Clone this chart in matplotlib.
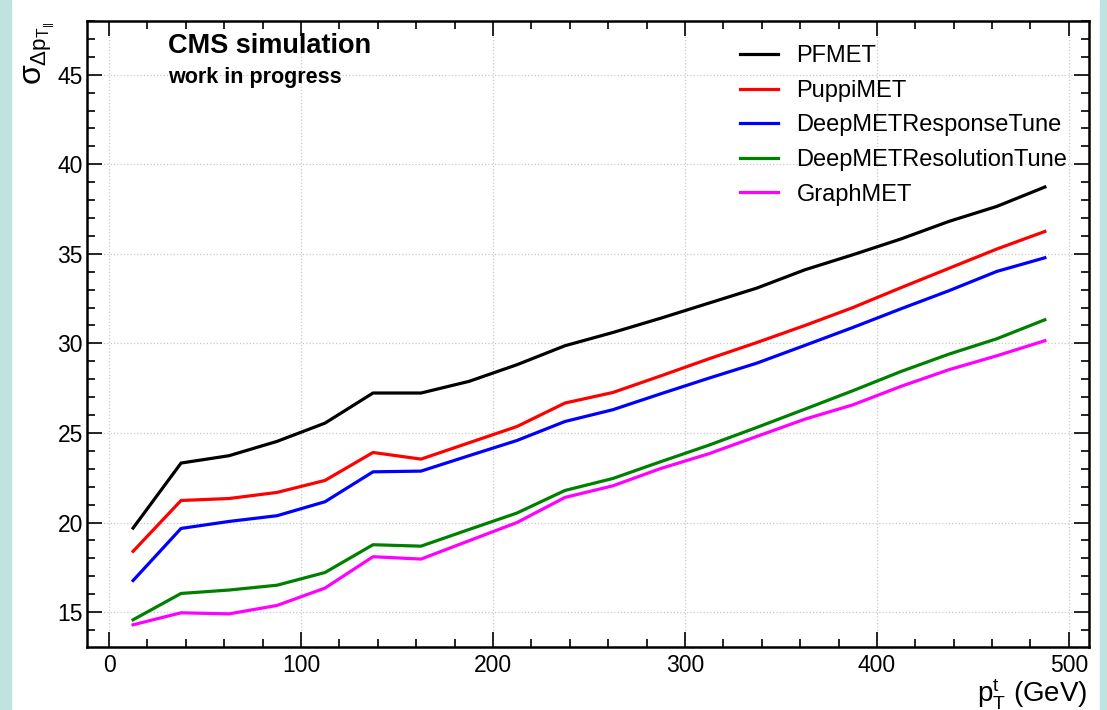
import numpy as np
import matplotlib
matplotlib.use('Agg')
import matplotlib.pyplot as plt
from matplotlib.patches import Rectangle
from matplotlib.ticker import MultipleLocator

plt.rcParams['font.family'] = ['Liberation Sans', 'DejaVu Sans']
plt.rcParams['mathtext.fontset'] = 'custom'
plt.rcParams['mathtext.rm'] = 'Liberation Sans'
plt.rcParams['mathtext.it'] = 'Liberation Sans'
plt.rcParams['mathtext.bf'] = 'Liberation Sans:bold'

# bin centres in pT (GeV)
pt = [12.5, 37.5, 62.5, 87.5, 112.5, 137.5, 162.5, 187.5, 212.5, 237.5,
      262.5, 287.5, 312.5, 337.5, 362.5, 387.5, 412.5, 437.5, 462.5, 487.5]

pfmet = [19.69, 23.32, 23.73, 24.53, 25.55, 27.23, 27.23, 27.88, 28.81, 29.87,
         30.61, 31.41, 32.25, 33.09, 34.11, 34.95, 35.83, 36.81, 37.65, 38.73]
puppimet = [18.39, 21.23, 21.34, 21.68, 22.35, 23.91, 23.54, 24.45, 25.36, 26.67,
            27.26, 28.19, 29.14, 30.05, 31.00, 32.00, 33.11, 34.19, 35.27, 36.25]
deepmet_response = [16.76, 19.67, 20.06, 20.38, 21.16, 22.83, 22.87, 23.73, 24.58, 25.64,
                    26.30, 27.19, 28.06, 28.90, 29.89, 30.89, 31.93, 32.94, 34.02, 34.78]
deepmet_resolution = [14.57, 16.04, 16.23, 16.50, 17.21, 18.76, 18.68, 19.61, 20.53, 21.79,
                      22.46, 23.40, 24.32, 25.31, 26.33, 27.36, 28.43, 29.40, 30.26, 31.32]
graphmet = [14.29, 14.96, 14.90, 15.37, 16.34, 18.09, 17.96, 18.98, 20.00, 21.40,
            22.05, 23.02, 23.84, 24.81, 25.77, 26.57, 27.60, 28.53, 29.31, 30.15]

series = [
    ('PFMET', pfmet, 'black'),
    ('PuppiMET', puppimet, 'red'),
    ('DeepMETResponseTune', deepmet_response, 'blue'),
    ('DeepMETResolutionTune', deepmet_resolution, 'green'),
    ('GraphMET', graphmet, 'magenta'),
]

fig = plt.figure(figsize=(11.07, 7.10), dpi=100, facecolor='white')
# teal side strips of the slide
teal = '#bfe3df'
fig.patches.append(Rectangle((0, 0), 11 / 1107, 1, transform=fig.transFigure,
                             color=teal, zorder=0))
fig.patches.append(Rectangle((1100 / 1107, 0), 7 / 1107, 1, transform=fig.transFigure,
                             color=teal, zorder=0))

ax = fig.add_axes([87 / 1107, 1 - 647 / 710, (1089 - 87) / 1107, (647 - 21) / 710])

for name, vals, col in series:
    ax.plot(pt, vals, color=col, lw=2.3, label=name)

ax.set_xlim(-11.5, 510.5)
ax.set_ylim(13.05, 48.0)
ax.xaxis.set_major_locator(MultipleLocator(100))
ax.xaxis.set_minor_locator(MultipleLocator(20))
ax.yaxis.set_major_locator(MultipleLocator(5))
ax.yaxis.set_minor_locator(MultipleLocator(1))
ax.tick_params(which='both', direction='in', top=True, right=True, width=1.2)
ax.tick_params(which='major', length=11, labelsize=16.5)
ax.tick_params(which='minor', length=5.5)
ax.tick_params(axis='x', which='major', pad=5)
ax.tick_params(axis='y', which='major', pad=3)
for s in ax.spines.values():
    s.set_linewidth(1.8)
ax.grid(True, which='major', color='#c8c8c8', ls=':', lw=0.9)

fig.text(1087 / 1107, 1 - 702 / 710, r'$\mathrm{p}_{\mathrm{T}}^{\mathrm{t}}$ (GeV)',
         ha='right', va='baseline', fontsize=20)
fig.text(39 / 1107, 1 - 21 / 710, r'$\sigma_{\Delta \mathrm{p}_{\mathrm{T}_{||}}}$',
         rotation=90, ha='center', va='top', fontsize=23)

ax.text(0.081, 0.949, 'CMS simulation', transform=ax.transAxes, fontsize=19.5,
        fontweight='bold', va='baseline', ha='left')
ax.text(0.081, 0.901, 'work in progress', transform=ax.transAxes, fontsize=15.5,
        fontweight='bold', va='baseline', ha='left')

ax.legend(loc='upper left', bbox_to_anchor=(0.642, 0.976), frameon=False, fontsize=17,
          handlelength=1.6, handletextpad=0.8, labelspacing=0.53, borderaxespad=0)

fig.savefig('out.png', dpi=100, facecolor=fig.get_facecolor())
